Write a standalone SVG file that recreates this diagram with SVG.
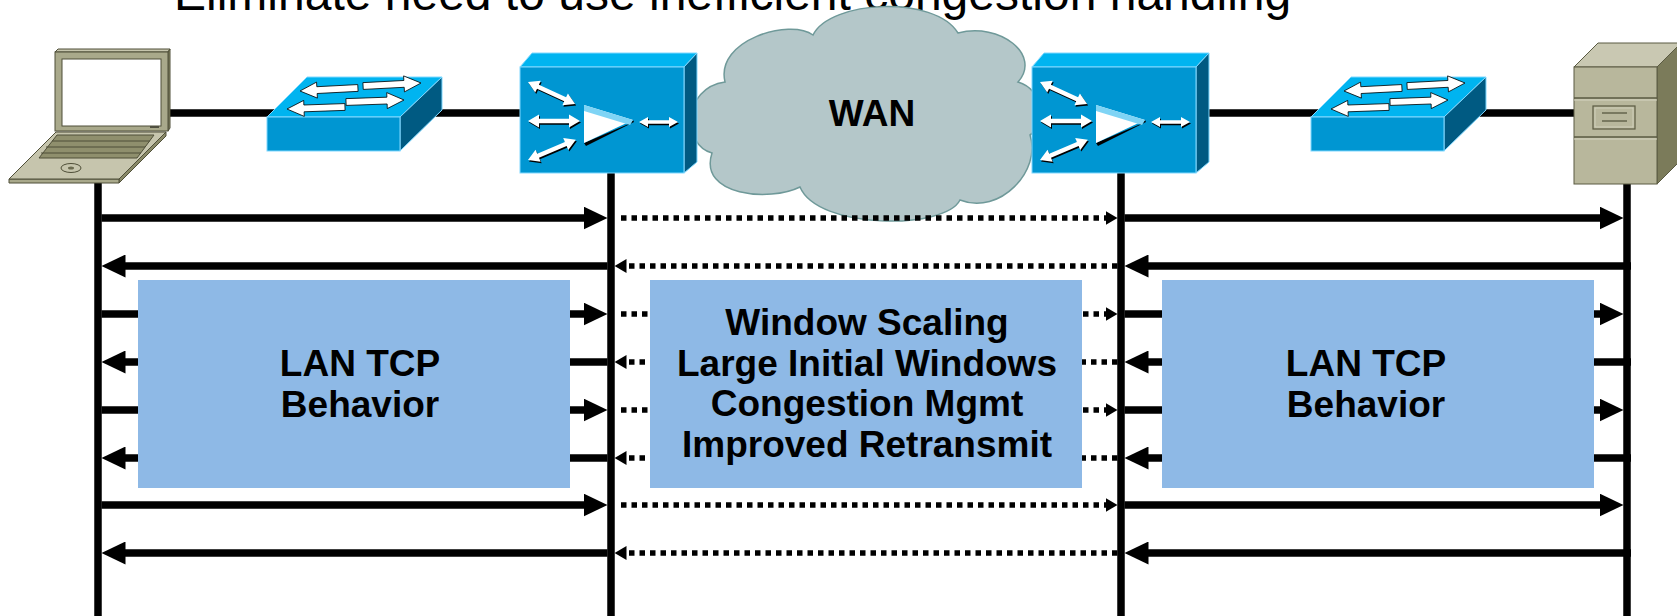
<svg xmlns="http://www.w3.org/2000/svg" xmlns:xlink="http://www.w3.org/1999/xlink" width="1677" height="616" viewBox="0 0 1677 616">
<style>
  .title{font-family:"Liberation Sans",Arial,sans-serif;font-size:48px;fill:#000}
  .lbl{font-family:"Liberation Sans",Arial,sans-serif;font-size:37px;font-weight:bold;fill:#000;text-anchor:middle}
  .link{stroke:#000;stroke-width:7.5;fill:none}
  .solid{stroke:#000;stroke-width:7.5;fill:none;marker-end:url(#hs)}
  .dot{stroke:#000;stroke-width:5.5;stroke-dasharray:5.5 5;fill:none;marker-end:url(#hd)}
  .box{fill:#8eb9e6}
  .bl-top{fill:#00b4f0;stroke:#80d8ff;stroke-width:1}
  .bl-front{fill:#0096d2;stroke:#80d8ff;stroke-width:1}
  .bl-side{fill:#005a82;stroke:#80d8ff;stroke-width:1}
  .wht{fill:#fff;stroke:#000;stroke-width:0.8}
  .kh-line{stroke:#4f4f38;stroke-width:1.2}
</style>
<defs>
  <marker id="hs" markerUnits="userSpaceOnUse" markerWidth="24" markerHeight="23" viewBox="0 0 24 23" refX="14" refY="11.5" orient="auto">
    <path d="M0,0 L24,11.5 L0,23 Z" fill="#000"/>
  </marker>
  <marker id="hd" markerUnits="userSpaceOnUse" markerWidth="12" markerHeight="14" viewBox="0 0 12 14" refX="6" refY="7" orient="auto">
    <path d="M0,0 L12,7 L0,14 Z" fill="#000"/>
  </marker>
  <!-- double-headed arrow used on the accelerator faces -->
  <path id="dbl" d="M0,0 L11,-6.5 L11,-2.2 L41,-2.2 L41,-6.5 L52,0 L41,6.5 L41,2.2 L11,2.2 L11,6.5 Z"/>
  <path id="dblS" d="M0,0 L9,-5 L9,-1.8 L30,-1.8 L30,-5 L39,0 L30,5 L30,1.8 L9,1.8 L9,5 Z"/>
  <!-- single arrow for the switch top, tip at origin -->
  <path id="swArr" d="M-58,-3.4 H-17 V-8 L0,0 L-17,8 V3.4 H-58 Z"/>

  <g id="accel">
    <polygon class="bl-top" points="0,0 12,-14 177,-14 164,0"/>
    <polygon class="bl-side" points="164,0 177,-14 177,95 164,106"/>
    <rect class="bl-front" x="0" y="0" width="164" height="106"/>
    <g fill="#000">
      <use xlink:href="#dbl" transform="translate(9,16.5) rotate(25)"/>
      <use xlink:href="#dbl" transform="translate(9,55.5)"/>
      <use xlink:href="#dbl" transform="translate(9,94.5) rotate(-23)"/>
      <use xlink:href="#dblS" transform="translate(120,56.5)"/>
    </g>
    <g fill="#fff">
      <use xlink:href="#dbl" transform="translate(8,15) rotate(25)"/>
      <use xlink:href="#dbl" transform="translate(8,54)"/>
      <use xlink:href="#dbl" transform="translate(8,93) rotate(-23)"/>
      <use xlink:href="#dblS" transform="translate(119,55)"/>
    </g>
    <polygon points="64,76 111,56 113,53 114,55 66,79" fill="#000"/>
    <polygon points="64,38 113,53 64,76" fill="#fff"/>
    <polygon points="64,38 113,53 110,58 64,44" fill="#7fd4f5"/>
  </g>

  <g id="lanSwitch">
    <polygon class="bl-top" points="0,0 40,-40 175,-40 133,0"/>
    <polygon class="bl-side" points="133,0 175,-40 175,-7 133,34"/>
    <rect class="bl-front" x="0" y="0" width="133" height="34"/>
    <g class="wht">
      <use xlink:href="#swArr" transform="translate(33,-26) rotate(177)"/>
      <use xlink:href="#swArr" transform="translate(154,-34) rotate(-3)"/>
      <use xlink:href="#swArr" transform="translate(20,-8) rotate(178)"/>
      <use xlink:href="#swArr" transform="translate(137,-17) rotate(-2)"/>
    </g>
  </g>
</defs>

<!-- title -->
<text class="title" x="174" y="10">Eliminate need to use inefficient congestion handling</text>

<!-- physical links between devices, behind the icons -->
<g id="links">
  <line class="link" x1="160" y1="113" x2="280" y2="113"/>
  <line class="link" x1="420" y1="113" x2="525" y2="113"/>
  <line class="link" x1="1200" y1="113" x2="1320" y2="113"/>
  <line class="link" x1="1470" y1="113" x2="1580" y2="113"/>
  <line class="link" x1="98" y1="180" x2="98" y2="616"/>
  <line class="link" x1="611" y1="170" x2="611" y2="616"/>
  <line class="link" x1="1121" y1="170" x2="1121" y2="616"/>
  <line class="link" x1="1627" y1="180" x2="1627" y2="616"/>
</g>

<!-- client laptop -->
<g id="laptop">
  <polygon points="55,52 58,49 170,49 168,52" fill="#c6c5ad" stroke="#4f4f38" stroke-width="1"/>
  <polygon points="168,52 170,49 170,128 168,131" fill="#8a8a68" stroke="#4f4f38" stroke-width="1"/>
  <rect x="55" y="52" width="113" height="79" fill="#a9a98b" stroke="#4f4f38" stroke-width="1"/>
  <rect x="62" y="59" width="99" height="67" fill="#fff" stroke="#4f4f38" stroke-width="1"/>
  <rect x="150" y="126" width="9" height="2" fill="#505040"/>
  <polygon points="166,132 166,136 119,183 119,179" fill="#8a8a68" stroke="#4f4f38" stroke-width="1"/>
  <polygon points="9,179 119,179 119,183 9,183" fill="#a9a98b" stroke="#4f4f38" stroke-width="1"/>
  <polygon points="56,132 166,132 119,179 9,179" fill="#c6c5ad" stroke="#4f4f38" stroke-width="1"/>
  <polygon points="57,135 154,135 137,158 39,158" fill="#8f8f6d" stroke="#4f4f38" stroke-width="1"/>
  <line class="kh-line" x1="52" y1="141" x2="150" y2="141"/>
  <line class="kh-line" x1="46" y1="147" x2="145" y2="147"/>
  <line class="kh-line" x1="41" y1="153" x2="141" y2="153"/>
  <ellipse cx="71" cy="168" rx="10" ry="4.5" fill="none" stroke="#4f4f38" stroke-width="1"/>
  <ellipse cx="71" cy="168" rx="3" ry="1.5" fill="#6b6b50"/>
</g>

<!-- LAN switches -->
<g id="switch-left">
  <use xlink:href="#lanSwitch" transform="translate(267,117)"/>
</g>
<g id="switch-right">
  <use xlink:href="#lanSwitch" transform="translate(1311,117)"/>
</g>

<!-- WAN cloud -->
<g id="wan">
  <path d="M725,82 C715,40 790,18 813,35 C830,0 935,-5 958,33 C1000,22 1042,55 1018,82 C1045,90 1046,125 1030,135 C1042,170 1000,216 960,200 C945,230 818,230 800,187 C770,202 698,196 712,153 C682,145 682,88 725,82 Z" fill="#b4c7c9" stroke="#6f9999" stroke-width="1.5"/>
  <text class="lbl" x="872" y="126">WAN</text>
</g>

<!-- WAN accelerators -->
<g id="accel-left">
  <use xlink:href="#accel" transform="translate(520,67)"/>
</g>
<g id="accel-right">
  <use xlink:href="#accel" transform="translate(1032,67)"/>
</g>

<!-- server -->
<g id="server">
  <polygon points="1574,67 1598,43 1681,43 1657,67" fill="#c9c8b2" stroke="#5a5a42" stroke-width="1"/>
  <polygon points="1657,67 1681,43 1681,160 1657,184" fill="#7b7b5a" stroke="#5a5a42" stroke-width="1"/>
  <rect x="1574" y="67" width="83" height="117" fill="#b8b79c" stroke="#5a5a42" stroke-width="1"/>
  <line x1="1574" y1="98" x2="1657" y2="98" stroke="#5a5a42" stroke-width="1.5"/>
  <line x1="1574" y1="100" x2="1657" y2="100" stroke="#d6d5c2" stroke-width="1"/>
  <line x1="1574" y1="137" x2="1657" y2="137" stroke="#5a5a42" stroke-width="1.5"/>
  <line x1="1574" y1="139" x2="1657" y2="139" stroke="#d6d5c2" stroke-width="1"/>
  <rect x="1593" y="106" width="42" height="23" fill="#b8b79c" stroke="#5a5a42" stroke-width="1.2"/>
  <rect x="1595" y="108" width="38" height="19" fill="none" stroke="#d6d5c2" stroke-width="0.8"/>
  <line x1="1602" y1="113" x2="1627" y2="113" stroke="#4f4f38" stroke-width="1.2"/>
  <line x1="1602" y1="121" x2="1627" y2="121" stroke="#4f4f38" stroke-width="1.2"/>
</g>

<!-- packet flows between endpoints and accelerators -->
<g id="flows">
  <!-- row 1, forward -->
  <path class="solid" d="M101.5,218 H597.5"/>
  <path class="dot" d="M621,218 H1111.5"/>
  <path class="solid" d="M1124.5,218 H1613.5"/>
  <!-- row 2, return -->
  <path class="solid" d="M1631,266 H1134.5"/>
  <path class="dot" d="M1117.5,266 H620.5"/>
  <path class="solid" d="M607.5,266 H111.5"/>
  <!-- row 3 -->
  <path class="solid" d="M101.5,314 H597.5"/>
  <path class="dot" d="M621,314 H1111.5"/>
  <path class="solid" d="M1124.5,314 H1613.5"/>
  <!-- row 4 -->
  <path class="solid" d="M1631,362 H1134.5"/>
  <path class="dot" d="M1117.5,362 H620.5"/>
  <path class="solid" d="M607.5,362 H111.5"/>
  <!-- row 5 -->
  <path class="solid" d="M101.5,410 H597.5"/>
  <path class="dot" d="M621,410 H1111.5"/>
  <path class="solid" d="M1124.5,410 H1613.5"/>
  <!-- row 6 -->
  <path class="solid" d="M1631,458 H1134.5"/>
  <path class="dot" d="M1117.5,458 H620.5"/>
  <path class="solid" d="M607.5,458 H111.5"/>
  <!-- row 7 -->
  <path class="solid" d="M101.5,505 H597.5"/>
  <path class="dot" d="M621,505 H1111.5"/>
  <path class="solid" d="M1124.5,505 H1613.5"/>
  <!-- row 8 -->
  <path class="solid" d="M1631,553 H1134.5"/>
  <path class="dot" d="M1117.5,553 H620.5"/>
  <path class="solid" d="M607.5,553 H111.5"/>
</g>

<!-- behaviour panels -->
<g id="panel-lan-left">
  <rect class="box" x="138" y="280" width="432" height="208"/>
  <text class="lbl" x="360" y="376">LAN TCP</text>
  <text class="lbl" x="360" y="417">Behavior</text>
</g>
<g id="panel-wan">
  <rect class="box" x="650" y="280" width="432" height="208"/>
  <text class="lbl" x="867" y="335">Window Scaling</text>
  <text class="lbl" x="867" y="376">Large Initial Windows</text>
  <text class="lbl" x="867" y="416">Congestion Mgmt</text>
  <text class="lbl" x="867" y="457">Improved Retransmit</text>
</g>
<g id="panel-lan-right">
  <rect class="box" x="1162" y="280" width="432" height="208"/>
  <text class="lbl" x="1366" y="376">LAN TCP</text>
  <text class="lbl" x="1366" y="417">Behavior</text>
</g>
</svg>
